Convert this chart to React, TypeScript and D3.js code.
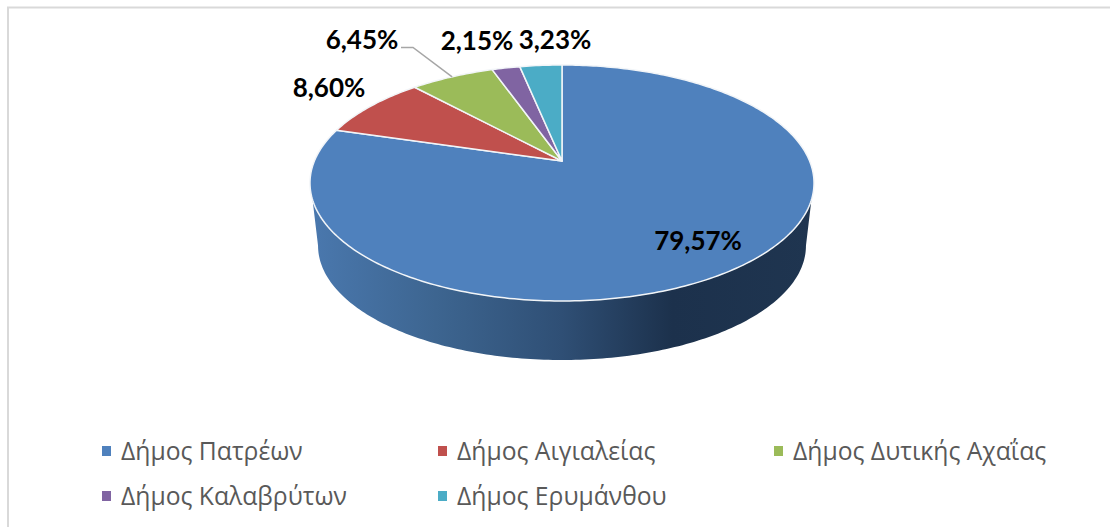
import React from 'react';
import * as d3 from 'd3';

const categories = ['Δήμος Πατρέων', 'Δήμος Αιγιαλείας', 'Δήμος Δυτικής Αχαΐας', 'Δήμος Καλαβρύτων', 'Δήμος Ερυμάνθου'];
const values = [79.57, 8.6, 6.45, 2.15, 3.23];
const labels = ['79,57%', '8,60%', '6,45%', '2,15%', '3,23%'];
const colors = ['#4f81bd', '#c0504d', '#9bbb59', '#8064a2', '#4bacc6'];

const WIDTH = 1110;
const HEIGHT = 527;

// where each label sits, same order as the data
const labelPos: [number, number][] = [[698, 250], [329, 97], [362, 49], [477, 50], [555, 49]];
const legendPos: [number, number][] = [[106, 451], [442, 451], [778, 451], [106, 496], [442, 496]];

// perspective tilt of the pie disc, apex is not the middle of the ellipse
const apex: [number, number] = [562, 161];
const tilt = 0.1864;
const discX = 247.6;
const discY = 113.9;

const project = (a: number, scale = 1, dy = 0): [number, number] => {
  const u = Math.sin(a);
  const v = Math.cos(a);
  const d = 1 + tilt * v;
  return [apex[0] + (scale * discX * u) / d, apex[1] + dy - (scale * discY * v) / d];
};

const line = d3.line();

const slicePath = (start: number, end: number) => {
  const steps = Math.max(2, Math.ceil((end - start) * 60));
  const rim = d3.range(steps + 1).map(i => project(start + ((end - start) * i) / steps));
  return line([apex, ...rim, apex]) + 'Z';
};

// the blue wall under the front of the disc
const sidePath = () => {
  const n = 180;
  const topGap = 0.327;
  const lowGap = 0.187;
  const top = d3.range(n + 1).map(i => project(Math.PI / 2 + topGap + ((Math.PI - 2 * topGap) * i) / n));
  const bottom = d3.range(n + 1).map(i => project(Math.PI * 1.5 - lowGap - ((Math.PI - 2 * lowGap) * i) / n, 0.968, 63.5));
  return line([...top, ...bottom]) + 'Z';
};

export default function App() {
  const pie = d3.pie<number>().sort(null).value(d => d);
  // clockwise from 12 o'clock
  const arcs = pie(values);
  const leader = arcs[2];
  const leaderEnd = project((leader.startAngle + leader.endAngle) / 2);

  return (
    <svg
      width={WIDTH}
      height={HEIGHT}
      style={{ position: 'absolute', left: 0, top: 0, background: '#fff' }}
    >
      <defs>
        <linearGradient id="wall" gradientUnits="userSpaceOnUse" x1={310} x2={813} y1={0} y2={0}>
          <stop offset="0" stopColor="#4a78ae" />
          <stop offset="0.25" stopColor="#3d6590" />
          <stop offset="0.5" stopColor="#2f4f75" />
          <stop offset="0.72" stopColor="#1c314c" />
          <stop offset="1" stopColor="#1f3550" />
        </linearGradient>
      </defs>

      <path d={`M8,527V7.5H${WIDTH}`} fill="none" stroke="#d9d9d9" strokeWidth={2} />

      <path d={sidePath()} fill="url(#wall)" />

      {arcs.map((a, i) => (
        <path
          key={categories[i]}
          d={slicePath(a.startAngle, a.endAngle)}
          fill={colors[i]}
          stroke="#f2f5f8"
          strokeWidth={1.5}
          strokeLinejoin="round"
        />
      ))}

      <path
        d={line([[401, 47.5], [413, 47.5], leaderEnd]) as string}
        fill="none"
        stroke="#a6a6a6"
        strokeWidth={1.5}
      />

      {labels.map((t, i) => (
        <text
          key={t}
          x={labelPos[i][0]}
          y={labelPos[i][1]}
          textAnchor="middle"
          fontFamily="Lato"
          fontWeight={700}
          fontSize={26}
          fill="#000"
        >
          {t}
        </text>
      ))}

      {categories.map((c, i) => (
        <g key={c}>
          <rect x={legendPos[i][0] - 4} y={legendPos[i][1] - 5} width={9} height={10} fill={colors[i]} />
          <text
            x={legendPos[i][0] + 15}
            y={legendPos[i][1] + 9}
            fontFamily="'Open Sans'"
            fontSize={24.7}
            fill="#595959"
          >
            {c}
          </text>
        </g>
      ))}
    </svg>
  );
}
